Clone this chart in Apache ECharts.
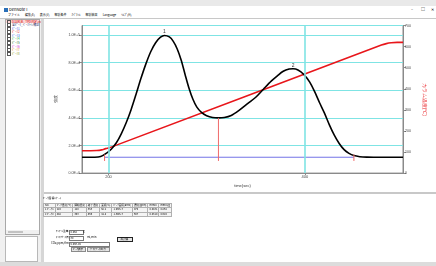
<!DOCTYPE html>
<html>
<head>
<meta charset="utf-8">
<script src="https://cdn.jsdelivr.net/npm/echarts@6/dist/echarts.min.js"></script>
<style>
  body { margin:0; width:436px; height:266px; overflow:hidden; background:#f0f0f0;
         font-family:"Noto Sans CJK JP","Noto Sans",sans-serif; position:relative; }
  .abs { position:absolute; }
  #top { left:0; top:0; width:436px; height:6px; background:#e9e9e9; }
  #title { left:0; top:6px; width:436px; height:7px; background:#fff; font-size:4px; line-height:7px; }
  #menu { left:0; top:13px; width:436px; height:4.5px; background:#fff; font-size:3px; line-height:4.5px;
          border-bottom:1px solid #c8c8c8; }
  #menu span { margin-right:5px; }
  #left { left:5px; top:18.5px; width:35px; height:216px; background:#fff; border:1px solid #a8a8a8; box-sizing:border-box; }
  #left div { font-size:3px; line-height:3.6px; height:3.6px; white-space:nowrap; padding-left:1px; }
  .cb { display:inline-block; width:2px; height:2px; border:0.5px solid #555; margin-right:1px; vertical-align:middle; }
  #scroll { left:6px; top:229.5px; width:33px; height:4px; background:#f0f0f0; }
  #thumb { left:8px; top:230.5px; width:15px; height:2px; background:#c2c2c2; }
  #left2 { left:5px; top:236px; width:33px; height:26px; background:#fff; border:1px solid #b8b8b8; box-sizing:border-box; }
  #divider { left:41px; top:18.5px; width:3px; height:244px; background:#d6d6d6; }
  #chart { left:44px; top:18.5px; width:392px; height:173.5px; background:#fff; }
  #sep { left:44px; top:192px; width:392px; height:2px; background:#c8c8c8; }
  #bottom { left:44px; top:194px; width:392px; height:68px; background:#fff; font-size:3px; }
  #status { left:0; top:262px; width:436px; height:4px; background:#dcdcdc; }
  table { border-collapse:collapse; position:absolute; left:-1px; top:8.5px; font-size:2.6px; background:#f4f4f4; }
  td { border:0.5px solid #b0b0b0; height:3.6px; padding:0 1px; white-space:nowrap; line-height:3.6px; }
  .inp { position:absolute; height:3px; background:#fff; border:0.5px solid #7a7a7a; font-size:2.6px; line-height:3px; padding-left:0.5px; }
  .btn { position:absolute; height:3.4px; background:#e4e4e4; border:0.5px solid #8a8a8a; font-size:2.6px; line-height:3.4px; text-align:center; }
  .lbl { position:absolute; font-size:2.8px; line-height:3px; white-space:nowrap; }
</style>
</head>
<body>
<div id="top" class="abs"></div>
<div id="title" class="abs">
  <span style="display:inline-block;width:4px;height:4px;background:#2a6fb8;margin:0 1px 0 4px;vertical-align:middle"></span>DenNote I
  <span style="position:absolute;left:411px;top:0">&#8211;</span>
  <span style="position:absolute;left:421px;top:0">&#9633;</span>
  <span style="position:absolute;left:431px;top:0">&#10005;</span>
</div>
<div id="menu" class="abs"><span style="margin-left:8px">ファイル</span><span>編集(E)</span><span>表示(V)</span><span>解析条件</span><span>ｽﾍﾟｸﾄﾙ</span><span>解析結果</span><span>Language</span><span>ﾍﾙﾌﾟ(H)</span></div>
<div id="left" class="abs">
  <div style="color:#d01010;background:#ffd8d8"><span class="cb"></span>0:試料名_TPD測定.csv</div>
  <div style="color:#1a1a60"><span class="cb"></span>全ﾋﾟｰｸ_ﾍﾞｰｽﾗｲﾝ補正</div>
  <div style="color:#2040e0"><span class="cb"></span>ﾋﾟｰｸ1</div>
  <div style="color:#e02020"><span class="cb"></span>ﾋﾟｰｸ2</div>
  <div style="color:#2060e0"><span class="cb"></span>ﾋﾟｰｸ3</div>
  <div style="color:#20b040"><span class="cb"></span>ﾋﾟｰｸ4</div>
  <div style="color:#207020"><span class="cb"></span>ﾋﾟｰｸ5</div>
  <div style="color:#d020d0"><span class="cb"></span>ﾋﾟｰｸ6</div>
  <div style="color:#e09020"><span class="cb"></span>ﾋﾟｰｸ7</div>
  <div style="color:#90a020"><span class="cb"></span>ﾋﾟｰｸ8</div>
</div>
<div id="scroll" class="abs"></div>
<div id="thumb" class="abs"></div>
<div id="left2" class="abs"></div>
<div id="divider" class="abs"></div>
<div id="chart" class="abs"></div>
<div id="sep" class="abs"></div>
<div id="bottom" class="abs">
  <div class="lbl" style="left:-1px;top:3px">ﾋﾟｰｸ面積ﾚﾎﾟｰﾄ</div>
  <table>
    <tr><td>No.</td><td>ﾋﾟｰｸ温度(℃)</td><td>開始温度</td><td>終了温度</td><td>面積(%)</td><td>ﾋﾟｰｸ面積(area)</td><td>濃度(ppm)</td><td>mmol</td><td>mmol/g</td></tr>
    <tr><td>1 ﾋﾟｰｸ1</td><td>220</td><td>120</td><td>353</td><td>58.2</td><td>1.93E+7</td><td>970</td><td>0.0431</td><td>0.862</td></tr>
    <tr><td>2 ﾋﾟｰｸ2</td><td>448</td><td>353</td><td>566</td><td>41.8</td><td>1.39E+7</td><td>697</td><td>0.0310</td><td>0.620</td></tr>
  </table>
  <div class="lbl" style="left:12px;top:36px">ｻﾝﾌﾟﾙ重量</div>
  <div class="inp" style="left:25px;top:36px;width:12px">0.050</div>
  <div class="lbl" style="left:39px;top:36px">g</div>
  <div class="lbl" style="left:12px;top:42px">ｷｬﾘｱｶﾞｽ流量</div>
  <div class="inp" style="left:25px;top:42px;width:12px">30</div>
  <div class="lbl" style="left:43px;top:42px">ml/min</div>
  <div class="lbl" style="left:7px;top:47.5px">CO2(ppm/Area)</div>
  <div class="inp" style="left:25px;top:47.5px;width:38px">5.03E-05</div>
  <div class="btn" style="left:26.5px;top:52.5px;width:13px">ﾋﾟｰｸ表示</div>
  <div class="btn" style="left:42.5px;top:52.5px;width:21px">ｸﾞﾗﾌﾃﾞｰﾀ出力</div>
  <div class="btn" style="left:72.5px;top:42.5px;width:14px;border:0.8px solid #222">再計算</div>
</div>
<div id="status" class="abs"></div>
<script>
// 検出器信号 (time[sec] / 強度)
const timeSec = [173, 186, 192, 198, 203, 208, 213, 218, 223, 228, 233, 238, 243, 248, 253, 257, 262, 266, 270, 274,
  278, 282, 286, 290, 295, 300, 306, 312, 318, 325, 333, 342, 350, 358, 366, 372, 378, 384, 388, 393,
  399, 405, 410, 415, 420, 425, 430, 435, 440, 445, 450, 456, 463, 470, 500];
const signal = [11500, 11500, 12000, 14500, 17500, 22000, 28500, 36500, 46000, 57000, 68500, 79000, 88000, 94500, 98500, 99800, 98700, 95500, 90000, 82000,
  71500, 61500, 53500, 47800, 43800, 41600, 40300, 40000, 40300, 41800, 45500, 50500, 55000, 61000, 66800, 70500, 73800, 75400, 75600, 74800,
  71500, 66000, 59000, 51000, 43500, 35000, 27500, 21500, 17000, 14300, 12700, 11900, 11550, 11500, 11500];

// カラム温度
const tempTime = [173, 188, 193, 197, 202, 478, 483, 488, 494, 500];
const tempValue = [106, 107, 110, 116, 122, 607, 614, 618, 620, 620];

// ベースライン
const baseTime = [196, 450];
const baseValue = [11500, 11500];

// ピーク区切り
const markerTime = [196, 312, 450];
const markerTop = [13500, 40000, 13500];
const markerBottom = [8800, 8800, 8800];

// ピーク番号
const peakTime = [257, 388];
const peakValue = [99800, 75600];
const peakNames = ['1', '2'];

const xAxisTicks = [200, 400];

const chart = echarts.init(document.getElementById('chart'), null, { renderer: 'canvas' });

const zip = (a, b) => a.map((v, i) => [v, b[i]]);
const gridColor = '#7fe4e4';

const series = [
  {
    type: 'line', data: zip(baseTime, baseValue), showSymbol: false, silent: true,
    lineStyle: { color: '#7272e6', width: 1 }, z: 2
  },
  {
    type: 'line', yAxisIndex: 1, data: zip(tempTime, tempValue), showSymbol: false, smooth: 0.3,
    lineStyle: { color: '#e8161b', width: 1.6 }, z: 3
  },
  {
    type: 'line', data: zip(timeSec, signal), showSymbol: false, smooth: 0.3,
    lineStyle: { color: '#000', width: 1.6 }, z: 4
  },
  {
    type: 'scatter', data: zip(peakTime, peakValue), symbolSize: 0, z: 6,
    label: { show: true, position: 'top', distance: 1, fontSize: 5, color: '#000',
             formatter: p => peakNames[p.dataIndex] }
  }
];
markerTime.forEach((t, i) => {
  series.push({
    type: 'line', data: [[t, markerTop[i]], [t, markerBottom[i]]], showSymbol: false,
    lineStyle: { color: '#f06a6a', width: 1 }, z: 5
  });
});

chart.setOption({
  animation: false,
  grid: { left: 38, right: 33, top: 6.5, bottom: 17.5, containLabel: false,
          show: true, borderColor: '#8a8a8a', borderWidth: 1 },
  xAxis: {
    type: 'value', min: 173, max: 500,
    name: 'time(sec)', nameLocation: 'middle', nameGap: 9,
    nameTextStyle: { fontSize: 4, color: '#333' },
    axisLine: { show: true, lineStyle: { color: '#8a8a8a' } },
    axisTick: { show: true, length: 2, customValues: xAxisTicks, lineStyle: { color: '#8a8a8a' } },
    axisLabel: { fontSize: 4, color: '#444', margin: 2, customValues: xAxisTicks },
    splitLine: { show: false }
  },
  yAxis: [
    {
      type: 'value', min: 0, max: 107000, interval: 20000,
      name: '強度', nameLocation: 'middle', nameGap: 21,
      nameTextStyle: { fontSize: 4, color: '#333' },
      axisLine: { show: true, lineStyle: { color: '#8a8a8a' } },
      axisTick: { show: true, length: 3, lineStyle: { color: '#8a8a8a' } },
      axisLabel: { fontSize: 3.6, color: '#444', margin: 2, showMaxLabel: false,
                   formatter: v => v.toExponential(1).toUpperCase() },
      splitLine: { show: true, lineStyle: { color: gridColor, width: 1.2 } }
    },
    {
      type: 'value', position: 'right', min: 0, max: 700, interval: 100,
      name: 'カラム温度(℃)', nameLocation: 'middle', nameRotate: -90, nameGap: 17,
      nameTextStyle: { fontSize: 5, color: '#e8161b' },
      axisLine: { show: true, lineStyle: { color: '#8a8a8a' } },
      axisTick: { show: true, length: 3, lineStyle: { color: '#8a8a8a' } },
      axisLabel: { fontSize: 3.6, color: '#444', margin: 2 },
      splitLine: { show: false }
    }
  ],
  series: series.concat([{
    type: 'line', data: [], silent: true,
    markLine: {
      symbol: 'none', silent: true, label: { show: false },
      lineStyle: { color: gridColor, width: 1.6, type: 'solid' },
      data: xAxisTicks.map(v => ({ xAxis: v }))
    }, z: 1
  }])
});
</script>
</body>
</html>
